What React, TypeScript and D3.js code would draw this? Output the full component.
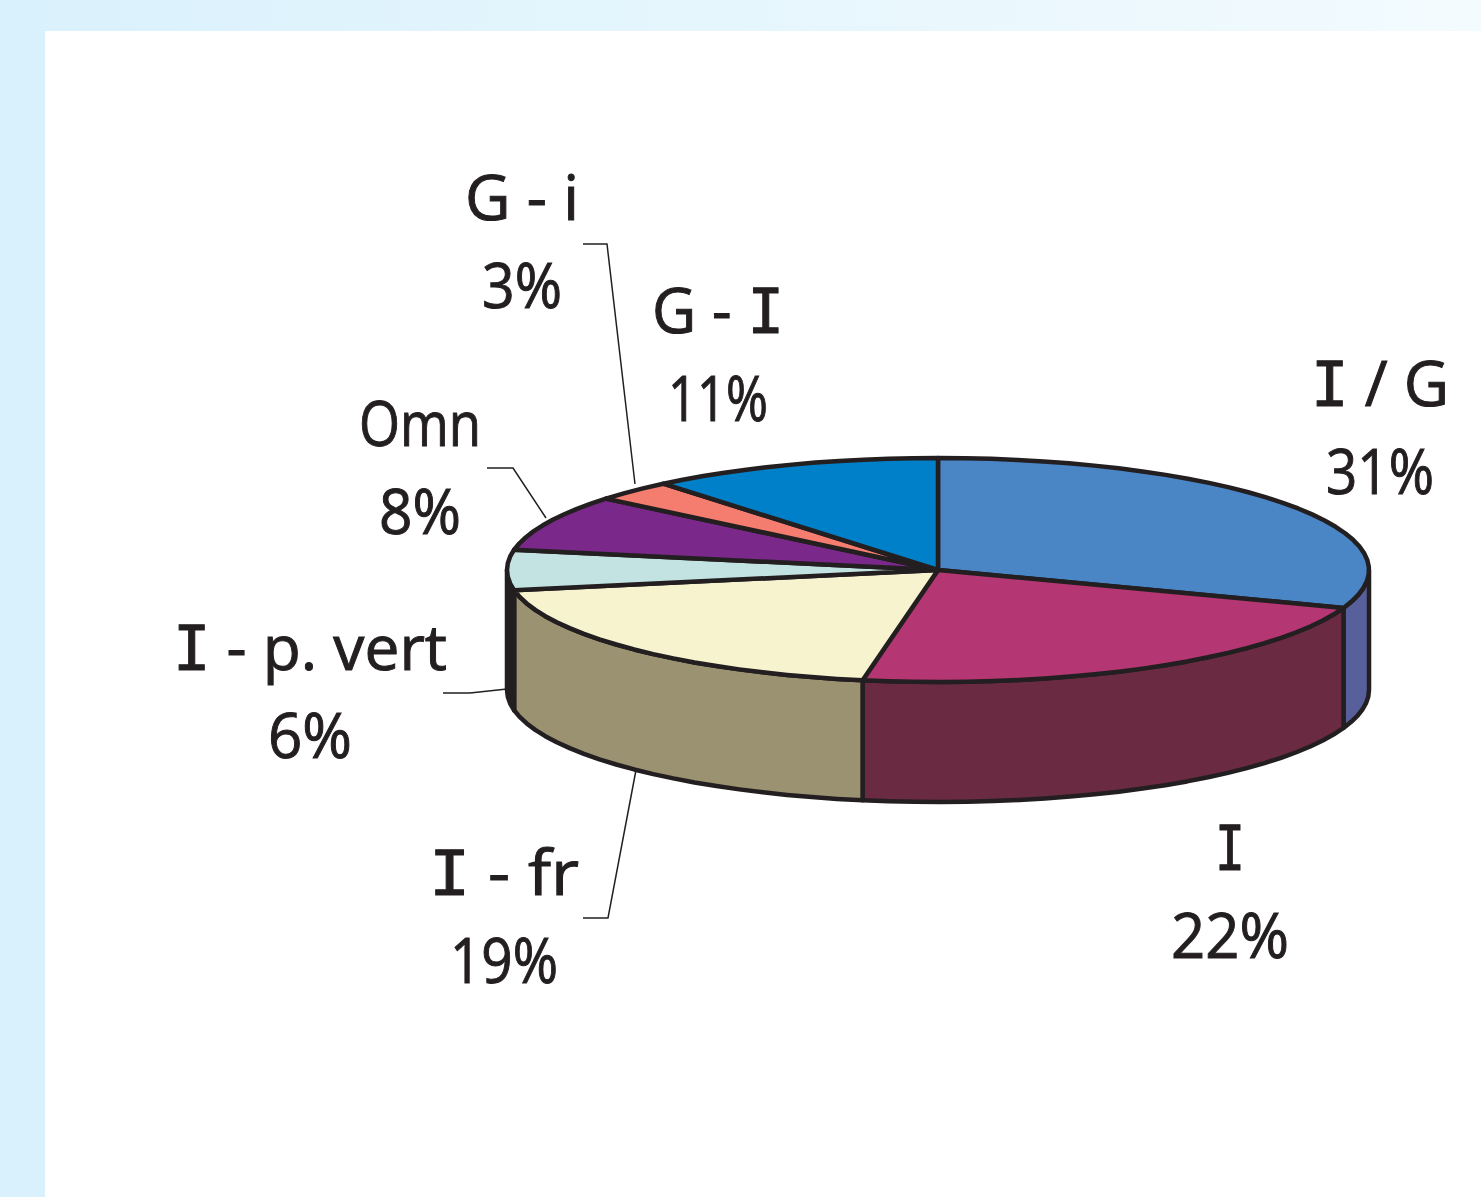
import React from "react";
import * as d3 from "d3";

const categories = ["I / G", "I", "I - fr", "I - p. vert", "Omn", "G - i", "G - I"];
const percentLabels = [31, 22, 19, 6, 8, 3, 11];
const sliceShares = [30.5, 22.3, 19.3, 5.8, 8.1, 3, 11];
const topColors = ["#4a86c6", "#b43672", "#f8f3cf", "#c3e3e2", "#7a288a", "#f47d70", "#0080c8"];
const sideColors = ["#58609c", "#692a42", "#9a9270", "#231f20", "#3d1445", "#7a3e38", "#004064"];

const labelX = [1380, 1230, 504, 310, 420, 522, 718];
const labelY = [406, 870, 895, 670, 446, 220, 333];
const nameWidths = [138, 30, 150, 274, 122, 114, 132];
const pctWidths = [108, 118, 108, 84, 82, 80, 100];

const leaders = [
  [[583, 244], [607, 244], [635, 484]],
  [[487, 468], [513, 468], [546, 518]],
  [[443, 693], [470, 693], [507, 689]],
  [[583, 918], [608, 918], [636, 770]],
];

const W = 1481;
const H = 1197;
const sx = d3.scaleLinear().domain([-1, 1]).range([507, 1369]);
const sy = d3.scaleLinear().domain([-1, 1]).range([458, 682]);
const DEPTH = 120;
const STEP = (3.6 * Math.PI) / 180;

const pt = (a: number, dy = 0): [number, number] => [sx(Math.sin(a)), sy(-Math.cos(a)) + dy];
const arcPts = (a0: number, a1: number, dy = 0) => {
  const n = Math.max(1, Math.ceil((a1 - a0) / STEP));
  return d3.range(n + 1).map((i) => pt(a0 + ((a1 - a0) * i) / n, dy));
};
const line = d3.line();

// The labels' capital I has serifs in the reference; only a monospaced face offers that here.
const nameParts = (name: string) =>
  name.split(/(I)/).filter(Boolean).map((part, i) =>
    part === "I" ? (
      <tspan key={i} fontFamily="'DejaVu Sans Mono', monospace">I</tspan>
    ) : (
      <tspan key={i}>{part}</tspan>
    )
  );

export default function App() {
  const arcs = d3.pie<number>().sort(null)(sliceShares);
  const center: [number, number] = [sx(0), sy(0)];
  const lo = Math.PI / 2;
  const hi = (3 * Math.PI) / 2;
  const font = { fontFamily: "'Open Sans', sans-serif", fontSize: 62, fill: "#231f20", stroke: "#231f20", strokeWidth: 1 };
  return (
    <svg width={W} height={H} viewBox={`0 0 ${W} ${H}`} style={{ position: "fixed", left: 0, top: 0, background: "#fff" }}>
      <defs>
        <linearGradient id="band" x1="0" x2="1" y1="0" y2="0">
          <stop offset="0" stopColor="#d9f1fc" />
          <stop offset="1" stopColor="#f3fbfe" />
        </linearGradient>
      </defs>
      <rect x={0} y={0} width={W} height={31} fill="url(#band)" />
      <rect x={0} y={0} width={45} height={H} fill="#d9f1fc" />

      {leaders.map((l, i) => (
        <path key={i} d={line(l as [number, number][]) as string} fill="none" stroke="#231f20" strokeWidth={1.5} />
      ))}

      {arcs.map((a, i) => {
        const a0 = Math.max(a.startAngle, lo);
        const a1 = Math.min(a.endAngle, hi);
        if (a1 <= a0) return null;
        const poly = [...arcPts(a0, a1), ...arcPts(a0, a1, DEPTH).reverse()];
        return (
          <path
            key={i}
            d={(line(poly) as string) + "Z"}
            fill={sideColors[i]}
            stroke="#231f20"
            strokeWidth={4.5}
            strokeLinejoin="round"
          />
        );
      })}

      {arcs.map((a, i) => (
        <path
          key={i}
          d={(line([center, ...arcPts(a.startAngle, a.endAngle)]) as string) + "Z"}
          fill={topColors[i]}
          stroke="#231f20"
          strokeWidth={4.5}
          strokeLinejoin="round"
        />
      ))}

      {categories.map((c, i) => (
        <g key={c} textAnchor="middle" {...font}>
          <text x={labelX[i]} y={labelY[i]} textLength={nameWidths[i]} lengthAdjust="spacingAndGlyphs">
            {nameParts(c)}
          </text>
          <text x={labelX[i]} y={labelY[i] + 88} textLength={pctWidths[i]} lengthAdjust="spacingAndGlyphs">
            {percentLabels[i]}%
          </text>
        </g>
      ))}
    </svg>
  );
}
